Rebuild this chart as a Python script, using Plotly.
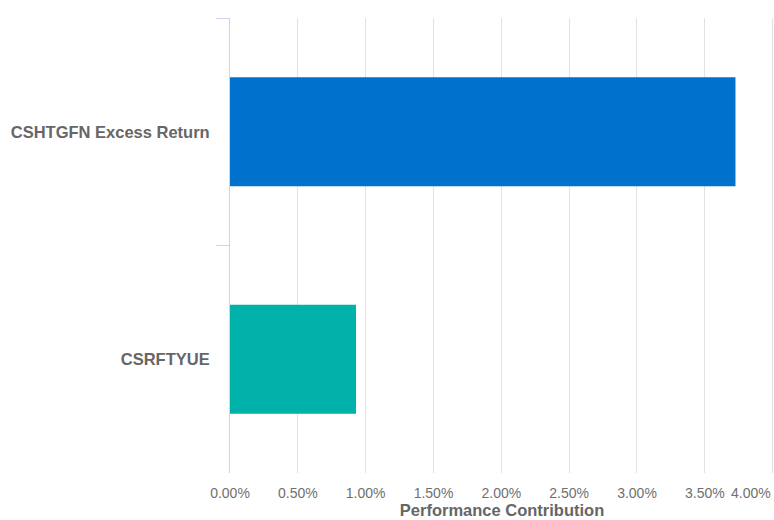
import plotly.graph_objects as go

categories = ["CSHTGFN Excess Return", "CSRFTYUE"]
values = [0.03726, 0.00929]
colors = ["#0072ce", "#00b2a9"]
x_ticks = [0, 0.005, 0.01, 0.015, 0.02, 0.025, 0.03, 0.035, 0.04]
x_tick_labels = ["0.00%", "0.50%", "1.00%", "1.50%", "2.00%", "2.50%", "3.00%", "3.50%", "4.00%"]

fig = go.Figure(go.Bar(
    x=values, y=categories, orientation="h",
    marker=dict(color=colors, line=dict(width=0)),
    width=0.48, hoverinfo="x+y",
))

# last tick label is drawn right-aligned so it stays inside the chart
shown_labels = x_tick_labels[:-1] + [""]
fig.add_annotation(
    x=x_ticks[-1], xref="x", y=0, yref="paper", yshift=-20,
    text=x_tick_labels[-1], showarrow=False, xanchor="right", yanchor="middle",
    font=dict(size=14, color="#707070"),
)

fig.update_layout(
    width=774, height=520,
    margin=dict(l=230, r=0, t=18, b=47),
    paper_bgcolor="white", plot_bgcolor="white",
    font=dict(family="Liberation Sans, Arial, sans-serif", color="#666666"),
    showlegend=False,
    xaxis=dict(
        range=[0, 0.0401], tickvals=x_ticks, ticktext=shown_labels,
        showgrid=True, gridcolor="#e2e2e2", gridwidth=1,
        zeroline=False, showline=False, ticks="",
        tickfont=dict(size=14, color="#707070"),
        ticklabelstandoff=10,
        title=dict(text="<b>Performance Contribution</b>", font=dict(size=16.5, color="#666666"), standoff=2),
        automargin=False,
    ),
    yaxis=dict(
        autorange=False, range=[1.5, -0.5],
        categoryorder="array", categoryarray=categories,
        showline=True, linecolor="#ccd6eb", linewidth=1,
        ticks="outside", tickson="boundaries", ticklen=13, tickcolor="#ccd6eb", tickwidth=1,
        showgrid=False, zeroline=False,
        tickfont=dict(size=16.5, color="#666666", weight="bold"),
        ticklabelstandoff=16,
        automargin=False,
    ),
)

fig.write_html(
    "out.html",
    config={"displayModeBar": False},
    post_script="document.body.style.margin='0';document.body.style.overflow='hidden';",
)
